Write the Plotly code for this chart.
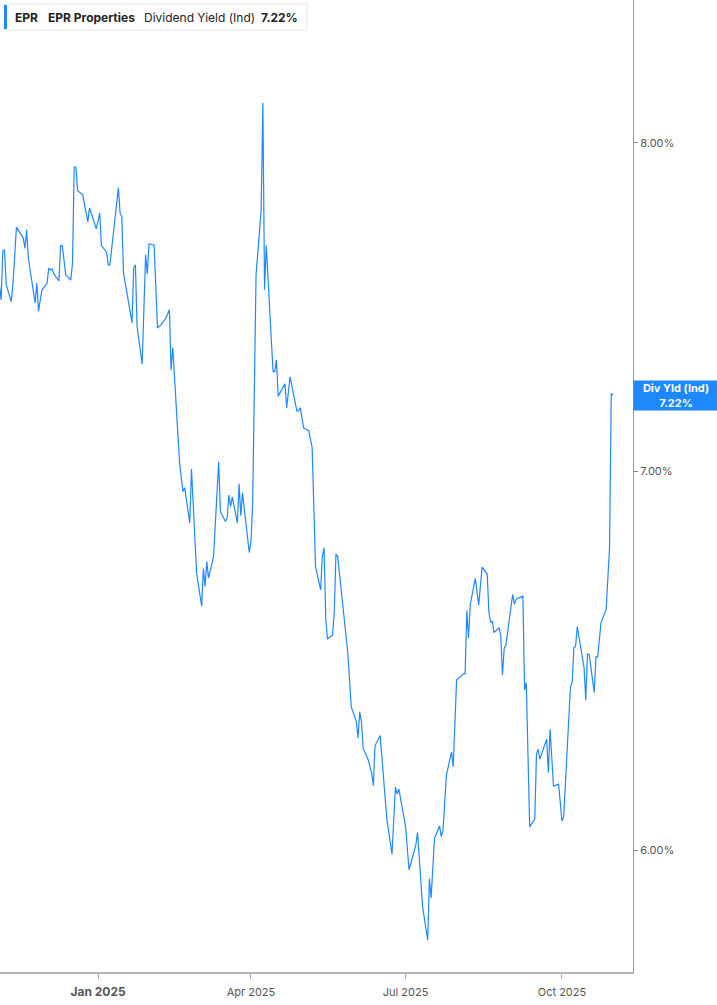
import numpy as np
import plotly.graph_objects as go

# EPR dividend yield (indicated), %
dates = [
    "2024-11-04", "2024-11-05", "2024-11-06", "2024-11-07", "2024-11-08", "2024-11-11",
    "2024-11-12", "2024-11-14", "2024-11-18", "2024-11-19", "2024-11-20", "2024-11-21",
    "2024-11-25", "2024-11-26", "2024-11-27", "2024-11-29", "2024-12-02", "2024-12-03",
    "2024-12-04", "2024-12-05", "2024-12-06", "2024-12-09", "2024-12-10", "2024-12-11",
    "2024-12-13", "2024-12-16", "2024-12-17", "2024-12-18", "2024-12-19", "2024-12-20",
    "2024-12-23", "2024-12-26", "2024-12-27", "2024-12-31", "2025-01-02", "2025-01-03",
    "2025-01-06", "2025-01-07", "2025-01-08", "2025-01-13", "2025-01-14", "2025-01-15",
    "2025-01-16", "2025-01-21", "2025-01-22", "2025-01-23", "2025-01-24", "2025-01-27",
    "2025-01-29", "2025-01-30", "2025-01-31", "2025-02-03", "2025-02-05", "2025-02-07",
    "2025-02-10", "2025-02-12", "2025-02-13", "2025-02-14", "2025-02-18", "2025-02-20",
    "2025-02-21", "2025-02-24", "2025-02-25", "2025-02-28", "2025-03-03", "2025-03-04",
    "2025-03-05", "2025-03-06", "2025-03-07", "2025-03-10", "2025-03-13", "2025-03-14",
    "2025-03-17", "2025-03-18", "2025-03-19", "2025-03-20", "2025-03-21", "2025-03-24",
    "2025-03-25", "2025-03-26", "2025-03-27", "2025-03-31", "2025-04-01", "2025-04-02",
    "2025-04-04", "2025-04-07", "2025-04-08", "2025-04-09", "2025-04-10", "2025-04-14",
    "2025-04-15", "2025-04-16", "2025-04-17", "2025-04-21", "2025-04-22", "2025-04-24",
    "2025-04-28", "2025-04-29", "2025-04-30", "2025-05-02", "2025-05-05", "2025-05-07",
    "2025-05-09", "2025-05-12", "2025-05-13", "2025-05-14", "2025-05-15", "2025-05-16",
    "2025-05-19", "2025-05-20", "2025-05-21", "2025-05-22", "2025-05-28", "2025-05-30",
    "2025-06-02", "2025-06-03", "2025-06-04", "2025-06-05", "2025-06-06", "2025-06-09",
    "2025-06-11", "2025-06-12", "2025-06-13", "2025-06-16", "2025-06-20", "2025-06-23",
    "2025-06-25", "2025-06-26", "2025-06-27", "2025-07-01", "2025-07-03", "2025-07-07",
    "2025-07-08", "2025-07-11", "2025-07-14", "2025-07-15", "2025-07-16", "2025-07-18",
    "2025-07-21", "2025-07-22", "2025-07-23", "2025-07-25", "2025-07-28", "2025-07-29",
    "2025-07-31", "2025-08-04", "2025-08-05", "2025-08-06", "2025-08-07", "2025-08-08",
    "2025-08-11", "2025-08-13", "2025-08-15", "2025-08-18", "2025-08-19", "2025-08-20",
    "2025-08-21", "2025-08-22", "2025-08-25", "2025-08-26", "2025-08-27", "2025-08-28",
    "2025-08-29", "2025-09-02", "2025-09-03", "2025-09-04", "2025-09-08", "2025-09-09",
    "2025-09-10", "2025-09-12", "2025-09-15", "2025-09-16", "2025-09-17", "2025-09-18",
    "2025-09-22", "2025-09-23", "2025-09-24", "2025-09-26", "2025-09-29", "2025-10-01",
    "2025-10-02", "2025-10-06", "2025-10-07", "2025-10-08", "2025-10-09", "2025-10-10",
    "2025-10-14", "2025-10-15", "2025-10-16", "2025-10-17", "2025-10-20", "2025-10-21",
    "2025-10-22", "2025-10-24", "2025-10-27", "2025-10-28", "2025-10-29", "2025-10-30",
    "2025-10-31",
]

div_yield = [
    7.551, 7.505, 7.656, 7.659, 7.551, 7.500,
    7.557, 7.730, 7.697, 7.664, 7.722, 7.634,
    7.496, 7.557, 7.471, 7.536, 7.556, 7.603,
    7.597, 7.600, 7.585, 7.563, 7.673, 7.672,
    7.582, 7.566, 7.619, 7.922, 7.922, 7.846,
    7.833, 7.747, 7.791, 7.725, 7.775, 7.673,
    7.653, 7.613, 7.613, 7.855, 7.775, 7.764,
    7.588, 7.436, 7.603, 7.613, 7.424, 7.312,
    7.644, 7.585, 7.678, 7.675, 7.420, 7.429,
    7.450, 7.475, 7.294, 7.361, 7.023, 6.942,
    6.953, 6.854, 7.006, 6.716, 6.626, 6.728,
    6.679, 6.747, 6.702, 6.761, 7.027, 6.886,
    6.858, 6.868, 6.932, 6.900, 6.927, 6.854,
    6.964, 6.874, 6.939, 6.772, 6.802, 6.910,
    7.582, 7.785, 8.131, 7.536, 7.673, 7.289,
    7.289, 7.324, 7.217, 7.253, 7.182, 7.274,
    7.174, 7.174, 7.183, 7.124, 7.116, 7.067,
    6.733, 6.670, 6.761, 6.785, 6.594, 6.538,
    6.549, 6.608, 6.768, 6.761, 6.501, 6.360,
    6.322, 6.280, 6.347, 6.322, 6.254, 6.224,
    6.191, 6.159, 6.260, 6.286, 6.074, 5.990,
    6.156, 6.138, 6.151, 6.057, 5.952, 6.012,
    6.043, 5.863, 5.784, 5.931, 5.884, 6.029,
    6.059, 6.033, 6.049, 6.186, 6.244, 6.207,
    6.430, 6.446, 6.446, 6.614, 6.541, 6.629,
    6.701, 6.629, 6.732, 6.713, 6.611, 6.582,
    6.586, 6.555, 6.568, 6.546, 6.443, 6.513,
    6.522, 6.658, 6.631, 6.645, 6.653, 6.404,
    6.423, 6.057, 6.076, 6.239, 6.251, 6.226,
    6.277, 6.192, 6.302, 6.158, 6.163, 6.071,
    6.082, 6.412, 6.424, 6.515, 6.518, 6.571,
    6.462, 6.378, 6.498, 6.497, 6.397, 6.491,
    6.490, 6.582, 6.617, 6.702, 6.787, 7.225,
    7.220,
]

x_tick_vals = ["2025-01-01", "2025-04-01", "2025-07-01", "2025-10-01"]
x_tick_text = ["<b><span style='font-size:12px'>Jan 2025</span></b>",
               "Apr 2025", "Jul 2025", "Oct 2025"]
y_tick_vals = [6, 7, 8]
y_tick_text = ["6.00%", "7.00%", "8.00%"]

ticker = "EPR"
company = "EPR Properties"
metric = "Dividend Yield (Ind)"
last_label = "Div Yld (Ind)"
last_value = div_yield[-1]

BLUE = "#1e88ff"
W, H = 717, 1005
PW, PH = 633, 972  # plot area in pixels


def px(x):
    return x / PW


def py(y):
    return 1 - y / PH


fig = go.Figure()
fig.add_trace(go.Scatter(
    x=dates, y=div_yield, mode="lines",
    line=dict(color=BLUE, width=1.2),
    hoverinfo="skip", showlegend=False,
))

fig.update_layout(
    width=W, height=H,
    margin=dict(l=0, r=W - PW, t=0, b=H - PH),
    paper_bgcolor="white", plot_bgcolor="white",
    font=dict(family="Inter, Roboto, sans-serif", color="#555"),
    xaxis=dict(
        range=["2024-11-04 08:00", "2025-11-11 19:00"],
        tickvals=x_tick_vals, ticktext=x_tick_text,
        ticks="outside", ticklen=5, tickcolor="#aaa",
        tickfont=dict(size=11, color="#555"),
        ticklabelstandoff=4,
        showgrid=False, zeroline=False,
        showline=True, linecolor="#b5b5b5", linewidth=2,
    ),
    yaxis=dict(
        type="log", side="right",
        range=[np.log10(5.7096), np.log10(8.479)],
        tickvals=y_tick_vals, ticktext=y_tick_text,
        ticks="outside", ticklen=4, tickcolor="#888",
        tickfont=dict(size=11, color="#555"),
        showgrid=False, zeroline=False,
        showline=True, linecolor="#999", linewidth=1,
    ),
)

# header box, top left
fig.add_shape(type="rect", xref="paper", yref="paper",
              x0=px(4), x1=px(307), y0=py(30), y1=py(4),
              line=dict(color="#e6e6e6", width=1), fillcolor="white", layer="below")
fig.add_shape(type="rect", xref="paper", yref="paper",
              x0=px(4), x1=px(7), y0=py(29), y1=py(5),
              line=dict(width=0), fillcolor=BLUE)

header = [(13, "<b>" + ticker + "</b>"), (46, "<b>" + company + "</b>"),
          (142, metric), (259, "<b>%.2f%%</b>" % last_value)]
for hx, txt in header:
    fig.add_annotation(xref="paper", yref="paper", x=px(hx), y=py(17),
                       xanchor="left", yanchor="middle", showarrow=False,
                       text=txt, font=dict(size=12, color="#222"))

# last value tag on the right axis
fig.add_annotation(xref="paper", yref="y", x=1, y=np.log10(last_value),
                   xanchor="left", yanchor="middle", showarrow=False,
                   text="<b>%s<br>%.2f%%</b>" % (last_label, last_value),
                   font=dict(size=11, color="white"),
                   bgcolor=BLUE, width=84, height=29, borderpad=0, align="center")

# drop the default page margin so the figure sits at the window's corner
fig.write_html("out.html", config={"displayModeBar": False},
               post_script="document.body.style.margin = '0';")
